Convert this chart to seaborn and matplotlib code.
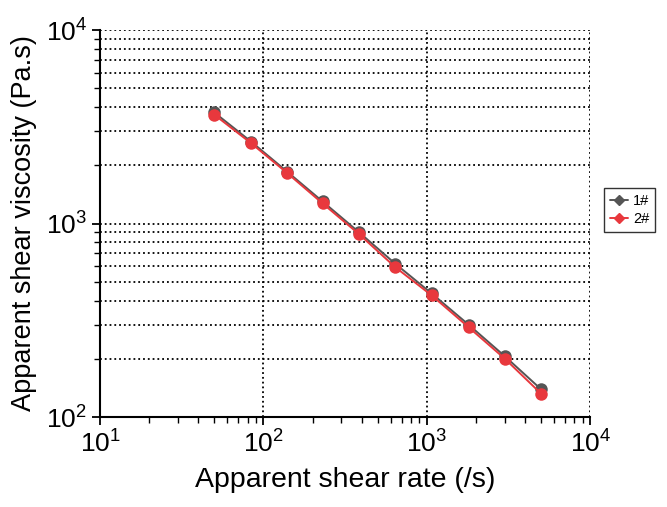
import numpy as np
import pandas as pd
import matplotlib
matplotlib.use("Agg")
import matplotlib.pyplot as plt
import seaborn as sns
from matplotlib.ticker import LogLocator, LogFormatterSciNotation, NullFormatter

# Data
shear_rate = [50, 84, 140, 230, 385, 640, 1070, 1800, 3000, 5000]
visc_1 = [3750, 2650, 1850, 1300, 900, 620, 435, 300, 206, 139]
visc_2 = [3650, 2600, 1820, 1270, 880, 595, 425, 291, 200, 132]
labels = ["1#", "2#"]
colors = ["#555555", "#e8383d"]

df = pd.concat([
    pd.DataFrame({"rate": shear_rate, "visc": visc_1, "sample": labels[0]}),
    pd.DataFrame({"rate": shear_rate, "visc": visc_2, "sample": labels[1]}),
])

sns.set_style("white")
plt.rcParams["font.family"] = ["Liberation Sans", "DejaVu Sans"]
plt.rcParams["mathtext.fontset"] = "custom"
plt.rcParams["mathtext.rm"] = "Liberation Sans"
plt.rcParams["mathtext.default"] = "regular"
plt.rcParams["text.color"] = "black"
plt.rcParams["axes.labelcolor"] = "black"
plt.rcParams["xtick.color"] = "black"
plt.rcParams["ytick.color"] = "black"

fig = plt.figure(figsize=(6.67, 5.07), dpi=100)
ax = fig.add_axes([0.15, 0.1775, 0.735, 0.7633])

sns.lineplot(data=df, x="rate", y="visc", hue="sample", palette=colors,
             marker="o", markersize=9, markeredgewidth=0, linewidth=1.4,
             ax=ax, legend=False)

ax.set_xscale("log")
ax.set_yscale("log")
ax.set_xlim(10, 10000)
ax.set_ylim(100, 10000)

ax.xaxis.set_major_locator(LogLocator(base=10, numticks=10))
ax.xaxis.set_minor_locator(LogLocator(base=10, subs=np.arange(2, 10), numticks=10))
ax.yaxis.set_major_locator(LogLocator(base=10, numticks=10))
ax.yaxis.set_minor_locator(LogLocator(base=10, subs=np.arange(2, 10), numticks=10))
ax.xaxis.set_major_formatter(LogFormatterSciNotation())
ax.yaxis.set_major_formatter(LogFormatterSciNotation())
ax.xaxis.set_minor_formatter(NullFormatter())
ax.yaxis.set_minor_formatter(NullFormatter())

ax.grid(True, which="major", axis="x", color="black", linestyle=":", linewidth=1.3)
ax.grid(True, which="both", axis="y", color="black", linestyle=":", linewidth=1.3)

for s in ["top", "right"]:
    ax.spines[s].set_visible(False)
for s in ["left", "bottom"]:
    ax.spines[s].set_color("black")
    ax.spines[s].set_linewidth(1.5)

ax.tick_params(which="major", direction="out", length=6, width=1.3, labelsize=19,
               bottom=True, left=True, color="black", labelcolor="black")
ax.tick_params(which="minor", direction="out", length=4, width=1.0,
               bottom=True, left=True, color="black")

ax.set_xlabel("Apparent shear rate (/s)", fontsize=20.5, labelpad=7)
ax.set_ylabel("Apparent shear viscosity (Pa.s)", fontsize=19.5, labelpad=6)

handles = [plt.Line2D([], [], color=c, marker="D", markersize=5.5, linewidth=1.4) for c in colors]
leg = ax.legend(handles, labels, loc="center left", bbox_to_anchor=(1.02, 0.535),
                fontsize=10.5, frameon=True, fancybox=False, handlelength=1.2,
                handletextpad=0.35, borderpad=0.4, borderaxespad=0.3, labelspacing=0.25)
leg.get_frame().set_edgecolor("black")
leg.get_frame().set_linewidth(1.0)

fig.savefig("out.png", dpi=100)
